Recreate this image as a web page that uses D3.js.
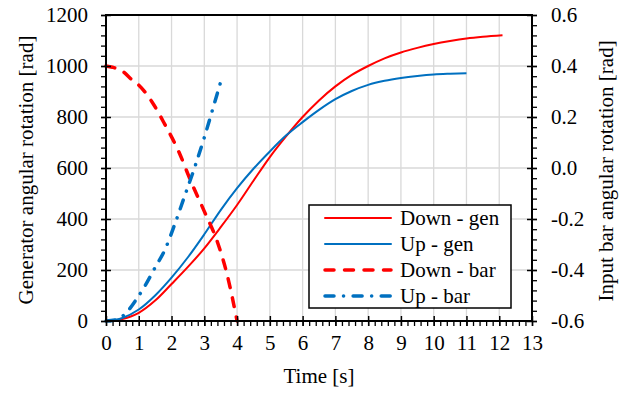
<!DOCTYPE html>
<html>
<head>
<meta charset="utf-8">
<script src="https://cdn.jsdelivr.net/npm/d3@7"></script>
<style>
  body { margin: 0; background: #fff; }
</style>
</head>
<body>
<div id="chart"></div>
<script>
const width = 629, height = 395,
   margin = {top: 15, right: 97, bottom: 74, left: 106},
   serif = 'Liberation Serif',
   fontSize = 21;

// time [s] and values
const downGenT = [0, 0.5, 1, 1.5, 2, 2.5, 3, 3.5, 4, 4.5, 5, 5.5, 6, 6.5, 7, 7.5, 8, 8.5, 9, 9.5, 10, 10.5, 11, 11.5, 12.1];
const downGen  = [0, 8, 32, 80, 145, 212, 285, 368, 455, 550, 643, 725, 800, 865, 920, 965, 1000, 1030, 1053, 1071, 1086, 1098, 1108, 1115, 1121];
const upGenT = [0, 0.5, 1, 1.5, 2, 2.5, 3, 3.5, 4, 4.5, 5, 5.5, 6, 6.5, 7, 7.5, 8, 8.5, 9, 9.5, 10, 10.5, 11];
const upGen  = [0, 12, 45, 100, 170, 250, 340, 435, 521, 597, 665, 728, 780, 828, 870, 902, 926, 942, 953, 961, 967, 970, 972];
const downBarT = [0, 0.2, 0.5, 0.8, 1.0, 1.4, 1.8, 2.2, 2.6, 3.0, 3.4, 3.7, 4.0];
const downBar  = [0.40, 0.395, 0.38, 0.345, 0.325, 0.26, 0.17, 0.07, -0.055, -0.17, -0.29, -0.42, -0.6];
const upBarT = [0, 0.3, 0.6, 0.9, 1.2, 1.5, 1.8, 2.1, 2.4, 2.7, 3.0, 3.3, 3.55];
const upBar  = [-0.6, -0.595, -0.57, -0.52, -0.46, -0.39, -0.32, -0.22, -0.11, 0.0, 0.12, 0.25, 0.36];

const xTicks = d3.range(0, 14, 1);
const yLeftTicks = [0, 200, 400, 600, 800, 1000, 1200];
const yRightTicks = [-0.6, -0.4, -0.2, 0.0, 0.2, 0.4, 0.6];
const legendNames = ['Down - gen', 'Up - gen', 'Down - bar', 'Up - bar'];

const red = '#ff0000', blue = '#0070c0';
const redDash = '9 10.5', blueDash = '9 9.5 0.1 9.5';

const svg = d3.select('#chart').append('svg')
   .attr('width', width).attr('height', height)
   .attr('font-family', serif);

const x = d3.scaleLinear().domain([0, 13]).range([margin.left, width - margin.right]);
const yL = d3.scaleLinear().domain([0, 1200]).range([height - margin.bottom, margin.top]);
const yR = d3.scaleLinear().domain([-0.6, 0.6]).range([height - margin.bottom, margin.top]);
const x0 = margin.left, x1 = width - margin.right, y0 = height - margin.bottom, y1 = margin.top;

// grid
svg.append('g').selectAll('line').data(xTicks.slice(1, -1)).join('line')
   .attr('x1', d => x(d)).attr('x2', d => x(d)).attr('y1', y0).attr('y2', y1)
   .attr('stroke', '#d9d9d9').attr('stroke-width', 1.3);
svg.append('g').selectAll('line').data(yLeftTicks.slice(1, -1)).join('line')
   .attr('x1', x0).attr('x2', x1).attr('y1', d => yL(d)).attr('y2', d => yL(d))
   .attr('stroke', '#d9d9d9').attr('stroke-width', 1.3);

// series
const line = (ts, vs, ys) => d3.line().curve(d3.curveMonotoneX)
   .x((d, i) => x(ts[i])).y(d => ys(d))(vs);

const plot = svg.append('g');
plot.append('path').attr('d', line(downGenT, downGen, yL))
   .attr('fill', 'none').attr('stroke', red).attr('stroke-width', 2);
plot.append('path').attr('d', line(upGenT, upGen, yL))
   .attr('fill', 'none').attr('stroke', blue).attr('stroke-width', 2);
plot.append('path').attr('d', line(downBarT, downBar, yR))
   .attr('fill', 'none').attr('stroke', red).attr('stroke-width', 3.5)
   .attr('stroke-dasharray', redDash).attr('stroke-linecap', 'round');
plot.append('path').attr('d', line(upBarT, upBar, yR))
   .attr('fill', 'none').attr('stroke', blue).attr('stroke-width', 3.5)
   .attr('stroke-dasharray', blueDash).attr('stroke-linecap', 'round');

// axes
const minorX = d3.range(0, 13.01, 0.2);
const minorL = d3.range(0, 1200.1, 40);
const minorR = d3.range(-0.6, 0.601, 0.04);

const styleAxis = g => {
   g.attr('font-family', serif).attr('font-size', fontSize);
   g.selectAll('text').attr('fill', '#000');
};

svg.append('g').attr('transform', `translate(0,${y0})`)
   .call(d3.axisBottom(x).tickValues(minorX).tickSize(5).tickFormat(''))
   .call(g => g.select('.domain').remove())
   .call(g => g.selectAll('line').attr('stroke-width', 1.3));
svg.append('g').attr('transform', `translate(0,${y0 - 5})`)
   .call(d3.axisBottom(x).tickValues(xTicks).tickSize(10).tickPadding(9).tickFormat(d3.format('d')))
   .call(g => g.select('.domain').remove())
   .call(g => g.selectAll('line').attr('stroke-width', 1.5))
   .call(styleAxis);

svg.append('g').attr('transform', `translate(${x0},0)`)
   .call(d3.axisLeft(yL).tickValues(minorL).tickSize(5).tickFormat(''))
   .call(g => g.select('.domain').remove())
   .call(g => g.selectAll('line').attr('stroke-width', 1.3));
svg.append('g').attr('transform', `translate(${x0 + 5},0)`)
   .call(d3.axisLeft(yL).tickValues(yLeftTicks).tickSize(10).tickPadding(13).tickFormat(d3.format('d')))
   .call(g => g.select('.domain').remove())
   .call(g => g.selectAll('line').attr('stroke-width', 1.5))
   .call(styleAxis);

svg.append('g').attr('transform', `translate(${x1},0)`)
   .call(d3.axisRight(yR).tickValues(minorR).tickSize(5).tickFormat(''))
   .call(g => g.select('.domain').remove())
   .call(g => g.selectAll('line').attr('stroke-width', 1.3));
svg.append('g').attr('transform', `translate(${x1 - 5},0)`)
   .call(d3.axisRight(yR).tickValues(yRightTicks).tickSize(10).tickPadding(14)
      .tickFormat(d => d3.format('.1f')(d).replace('\u2212', '-')))
   .call(g => g.select('.domain').remove())
   .call(g => g.selectAll('line').attr('stroke-width', 1.5))
   .call(styleAxis);

// frame
svg.append('rect').attr('x', x0).attr('y', y1).attr('width', x1 - x0).attr('height', y0 - y1)
   .attr('fill', 'none').attr('stroke', '#000').attr('stroke-width', 2);

// titles
const title = sel => sel.attr('font-size', fontSize).attr('text-anchor', 'middle').attr('font-family', serif);
svg.append('text').attr('x', (x0 + x1) / 2).attr('y', 383).call(title).text('Time [s]');
svg.append('text').attr('transform', `translate(33,${(y0 + y1) / 2 + 2}) rotate(-90)`)
   .call(title).text('Generator angular rotation [rad]');
svg.append('text').attr('transform', `translate(613,${(y0 + y1) / 2 + 3}) rotate(-90)`)
   .call(title).text('Input bar angular rotation [rad]');

// legend
const legend = svg.append('g').attr('transform', 'translate(309,205)');
legend.append('rect').attr('width', 202).attr('height', 103)
   .attr('fill', '#fff').attr('stroke', '#000').attr('stroke-width', 1.5);
const styles = [
   {c: red, w: 2, dash: null},
   {c: blue, w: 2, dash: null},
   {c: red, w: 3.5, dash: redDash},
   {c: blue, w: 3.5, dash: blueDash}
];
const items = legend.selectAll('g.item').data(legendNames).join('g').attr('class', 'item')
   .attr('transform', (d, i) => `translate(0,${13 + i * 26})`);
items.append('line').attr('x1', 16).attr('x2', 82).attr('y1', 0).attr('y2', 0)
   .attr('stroke', (d, i) => styles[i].c).attr('stroke-width', (d, i) => styles[i].w)
   .attr('stroke-dasharray', (d, i) => styles[i].dash).attr('stroke-linecap', 'round');
items.append('text').attr('x', 91).attr('y', 7).attr('font-size', fontSize)
   .attr('font-family', serif).text(d => d);
</script>
</body>
</html>
